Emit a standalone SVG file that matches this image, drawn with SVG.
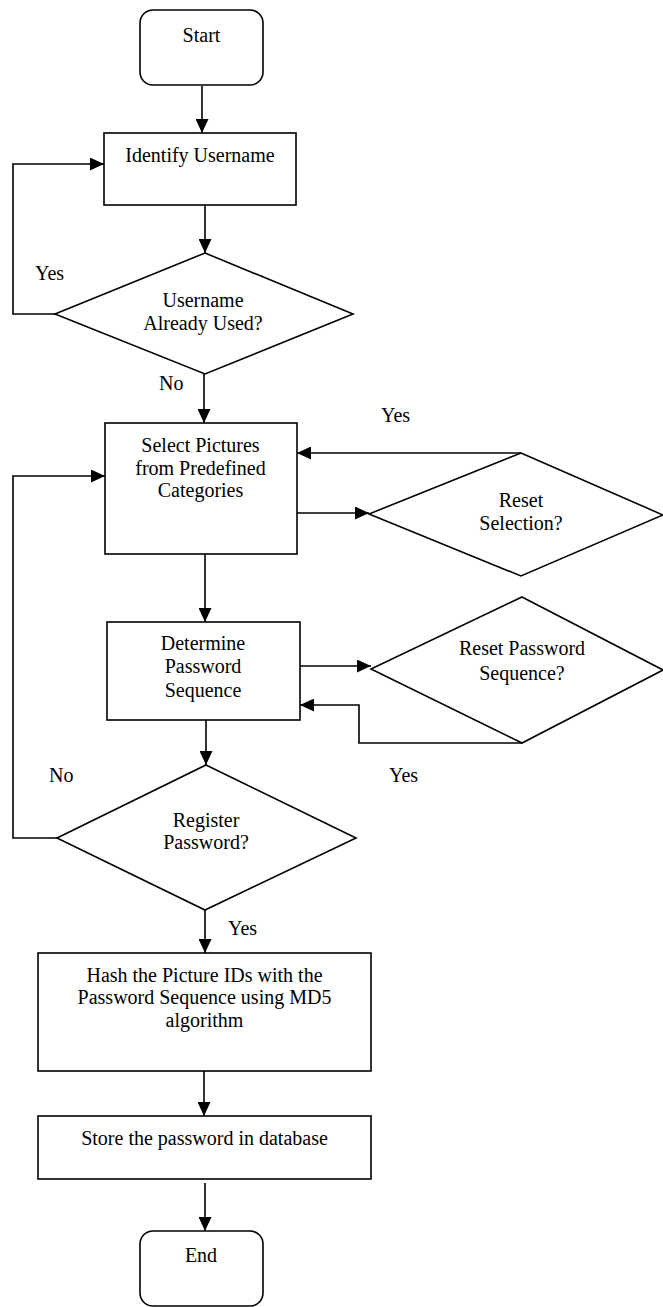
<svg xmlns="http://www.w3.org/2000/svg" width="663" height="1307" viewBox="0 0 663 1307">
  <style>
    .shape { fill: #ffffff; stroke: #000000; stroke-width: 1.6; }
    .line { fill: none; stroke: #000000; stroke-width: 1.6; }
    text { font-family: "Liberation Serif", "Times New Roman", serif; font-size: 20px; fill: #000000; }
    .c { text-anchor: middle; }
  </style>
  <defs>
    <marker id="arrow" markerUnits="userSpaceOnUse" markerWidth="14" markerHeight="13" refX="14" refY="6.5" orient="auto">
      <path d="M0,0 L14,6.5 L0,13 z" fill="#000000"/>
    </marker>
  </defs>

  <rect x="0" y="0" width="663" height="1307" fill="#ffffff"/>

  <!-- connectors -->
  <g id="connectors">
    <path class="line" d="M202,86 V133" marker-end="url(#arrow)"/>
    <path class="line" d="M205,205 V253" marker-end="url(#arrow)"/>
    <path class="line" d="M55,314 H13 V164 H104" marker-end="url(#arrow)"/>
    <path class="line" d="M204,374 V423" marker-end="url(#arrow)"/>
    <path class="line" d="M521,453 H297" marker-end="url(#arrow)"/>
    <path class="line" d="M297,513 H369" marker-end="url(#arrow)"/>
    <path class="line" d="M205,554 V622" marker-end="url(#arrow)"/>
    <path class="line" d="M300,666 H371" marker-end="url(#arrow)"/>
    <path class="line" d="M522,743 H359 V705 H300" marker-end="url(#arrow)"/>
    <path class="line" d="M206,720 V765" marker-end="url(#arrow)"/>
    <path class="line" d="M57,838 H13 V476 H105" marker-end="url(#arrow)"/>
    <path class="line" d="M205,910 V953" marker-end="url(#arrow)"/>
    <path class="line" d="M204,1071 V1116" marker-end="url(#arrow)"/>
    <path class="line" d="M205,1183 V1231" marker-end="url(#arrow)"/>
  </g>

  <!-- branch labels -->
  <g id="labels">
    <text x="35" y="280">Yes</text>
    <text x="159" y="390">No</text>
    <text x="381" y="422">Yes</text>
    <text x="49" y="782">No</text>
    <text x="389" y="782">Yes</text>
    <text x="228" y="935">Yes</text>
  </g>

  <g id="start">
    <rect class="shape" x="140" y="10" width="123" height="75" rx="13" ry="13"/>
    <text class="c" x="201.5" y="41.5">Start</text>
  </g>

  <g id="identify-username">
    <rect class="shape" x="104" y="133" width="192" height="72"/>
    <text class="c" x="200" y="162">Identify Username</text>
  </g>

  <g id="username-used">
    <polygon class="shape" points="205,253 353,314 205,374 55,314"/>
    <text class="c" x="203" y="307">Username</text>
    <text class="c" x="203" y="330">Already Used?</text>
  </g>

  <g id="select-pictures">
    <rect class="shape" x="105" y="423" width="192" height="131"/>
    <text class="c" x="200.5" y="452">Select Pictures</text>
    <text class="c" x="200.5" y="474.5">from Predefined</text>
    <text class="c" x="200.5" y="497">Categories</text>
  </g>

  <g id="reset-selection">
    <polygon class="shape" points="521,453 663,515 521,576 369,514"/>
    <text class="c" x="521" y="507">Reset</text>
    <text class="c" x="521" y="530">Selection?</text>
  </g>

  <g id="determine-sequence">
    <rect class="shape" x="107" y="622" width="193" height="98"/>
    <text class="c" x="203" y="650">Determine</text>
    <text class="c" x="203" y="673">Password</text>
    <text class="c" x="203" y="696.5">Sequence</text>
  </g>

  <g id="reset-sequence">
    <polygon class="shape" points="522,597 663,670 522,743 371,669"/>
    <text class="c" x="522" y="655">Reset Password</text>
    <text class="c" x="522" y="680">Sequence?</text>
  </g>

  <g id="register-password">
    <polygon class="shape" points="206,765 356,838 205,910 57,838"/>
    <text class="c" x="206" y="826.5">Register</text>
    <text class="c" x="206" y="849">Password?</text>
  </g>

  <g id="hash-ids">
    <rect class="shape" x="38" y="953" width="333" height="118"/>
    <text class="c" x="204.5" y="981.5">Hash the Picture IDs with the</text>
    <text class="c" x="204.5" y="1004">Password Sequence using MD5</text>
    <text class="c" x="204.5" y="1027">algorithm</text>
  </g>

  <g id="store-password">
    <rect class="shape" x="38" y="1116" width="333" height="63"/>
    <text class="c" x="204.5" y="1145">Store the password in database</text>
  </g>

  <g id="end">
    <rect class="shape" x="140" y="1231" width="123" height="75" rx="13" ry="13"/>
    <text class="c" x="201" y="1261.5">End</text>
  </g>
</svg>
